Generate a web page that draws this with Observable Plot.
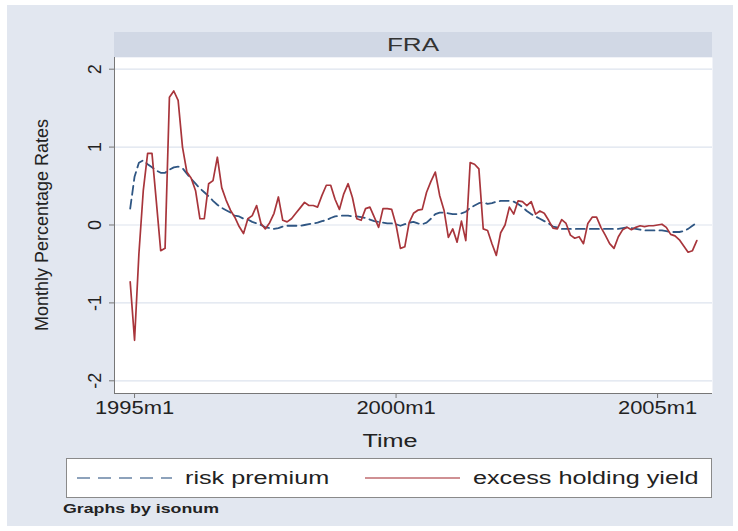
<!DOCTYPE html>
<html>
<head>
<meta charset="utf-8">
<script src="https://cdn.jsdelivr.net/npm/d3@7"></script>
<script src="https://cdn.jsdelivr.net/npm/@observablehq/plot@0.6"></script>
<style>
  body { margin: 0; background: #ffffff; font-family: "Liberation Sans", Arial, Helvetica, sans-serif; }
  #wrap { position: relative; width: 738px; height: 531px; overflow: hidden; }
  #bg { position: absolute; left: 7px; top: 5px; width: 726px; height: 521px; background: #e2e7f0; }
  #chart { position: absolute; left: 0; top: 0; }
  #header { position: absolute; left: 114px; top: 32px; width: 598px; height: 25px; background: #d1d8e5; }
  #header span { position: absolute; left: 50%; top: 50%; transform: translate(-50%, -50%) scaleX(1.45);
            color: #333; font-size: 18px; white-space: nowrap; }
  #ylabel { position: absolute; left: 42px; top: 225px; transform: translate(-50%, -50%) rotate(-90deg);
            white-space: nowrap; font-size: 18px; color: #222; }
  #xlabel { position: absolute; left: 390px; top: 441px; transform: translate(-50%, -50%) scaleX(1.4);
            font-size: 18px; color: #222; }
  #legend { position: absolute; left: 66px; top: 458px; width: 644px; height: 38px; background: #fff;
            border: 1px solid #8a8a8a; box-sizing: content-box; }
  .lg { position: absolute; top: 0; height: 38px; display: flex; align-items: center; font-size: 18px; color: #222; white-space: nowrap; }
  .lg span { display: inline-block; transform: scaleX(1.4); transform-origin: left center; }
  #note { position: absolute; left: 63px; top: 502px; font-size: 12px; font-weight: bold; color: #222;
          transform: scaleX(1.48); transform-origin: left top; white-space: nowrap; }
</style>
</head>
<body>
<div id="wrap">
  <div id="bg"></div>
  <div id="chart"></div>
  <div id="header"><span id="paneltitle"></span></div>
  <div id="ylabel">Monthly Percentage Rates</div>
  <div id="xlabel">Time</div>
  <div id="legend"></div>
  <div id="note">Graphs by isonum</div>
</div>
<script>
// ---- data ----
const panel = "FRA";
const startMonth = "1994m12"; // first observation
const seriesNames = ["risk premium", "excess holding yield"];
const riskPremium = [
  0.21,0.62,0.80,0.83,0.78,0.74,0.70,0.67,0.67,0.71,
  0.74,0.75,0.73,0.66,0.59,0.53,0.47,0.42,0.37,0.31,
  0.26,0.22,0.19,0.16,0.12,0.11,0.08,0.07,0.04,0.02,
  0.00,-0.03,-0.04,-0.05,-0.04,-0.02,-0.01,-0.01,-0.01,-0.01,
  0.00,0.01,0.02,0.03,0.05,0.06,0.09,0.11,0.12,0.12,
  0.12,0.11,0.11,0.10,0.09,0.07,0.05,0.04,0.03,0.02,
  0.02,0.01,-0.01,0.01,0.03,0.04,0.02,0.01,0.03,0.08,
  0.14,0.16,0.16,0.15,0.14,0.14,0.15,0.17,0.22,0.25,
  0.28,0.29,0.27,0.28,0.30,0.31,0.31,0.31,0.30,0.27,
  0.23,0.18,0.14,0.11,0.08,0.05,0.02,-0.02,-0.03,-0.05,
  -0.05,-0.05,-0.05,-0.05,-0.05,-0.05,-0.05,-0.05,-0.05,-0.05,
  -0.05,-0.05,-0.05,-0.04,-0.03,-0.04,-0.05,-0.06,-0.07,-0.07,
  -0.07,-0.07,-0.07,-0.08,-0.09,-0.09,-0.09,-0.08,-0.05,-0.01,
  0.03
];
const excessYield = [
  -0.73,-1.48,-0.37,0.44,0.92,0.92,0.30,-0.33,-0.30,1.64,
  1.72,1.60,1.00,0.68,0.60,0.44,0.08,0.08,0.53,0.57,
  0.87,0.48,0.32,0.19,0.10,-0.02,-0.11,0.08,0.12,0.25,
  0.02,-0.05,0.03,0.15,0.36,0.06,0.04,0.08,0.15,0.22,
  0.29,0.25,0.25,0.23,0.38,0.51,0.51,0.33,0.20,0.40,
  0.53,0.35,0.08,0.06,0.21,0.23,0.10,-0.03,0.21,0.21,
  0.20,0.00,-0.30,-0.28,0.03,0.15,0.19,0.20,0.42,0.56,
  0.68,0.38,0.19,-0.16,-0.05,-0.22,0.05,-0.20,0.80,0.78,
  0.72,-0.05,-0.07,-0.24,-0.39,-0.10,0.00,0.23,0.14,0.31,
  0.30,0.25,0.30,0.14,0.18,0.15,0.06,-0.04,-0.05,0.07,
  0.02,-0.13,-0.17,-0.15,-0.24,0.02,0.10,0.10,-0.03,-0.13,
  -0.24,-0.30,-0.15,-0.06,-0.03,-0.06,-0.03,-0.01,-0.02,-0.01,
  -0.01,0.00,0.01,-0.03,-0.12,-0.14,-0.19,-0.27,-0.35,-0.33,
  -0.20
];
const yTicks = [-2, -1, 0, 1, 2];
const xTickLabels = ["1995m1", "2000m1", "2005m1"];

// ---- helpers ----
function monthIndex(label) { // months since 1995m1
  const [y, m] = label.split("m").map(Number);
  return (y - 1995) * 12 + (m - 1);
}
const t0 = monthIndex(startMonth);
const rows = riskPremium.map((v, i) => ({ t: t0 + i, risk: v, excess: excessYield[i] }));
const xTicks = xTickLabels.map(monthIndex);

document.getElementById("paneltitle").textContent = panel;

const colors = { risk: "#2f5683", excess: "#a8353b" };
const dash = "9,5";
const xDomain = [-4.6, 132.6];
const yDomain = [-2.163, 2.15];

const chart = Plot.plot({
  width: 738,
  height: 531,
  marginLeft: 114,
  marginRight: 26,
  marginTop: 57,
  marginBottom: 138,
  style: { background: "transparent", fontFamily: "'Liberation Sans', Arial, sans-serif", color: "#222" },
  x: { domain: xDomain, label: null },
  y: { domain: yDomain, label: null },
  marks: [
    Plot.frame({ fill: "white", stroke: null }),
    Plot.gridY(yTicks, { stroke: "#dde3ee", strokeOpacity: 1, strokeWidth: 1.2 }),
    Plot.line(rows, { x: "t", y: "risk", stroke: colors.risk, strokeWidth: 1.8, strokeDasharray: dash }),
    Plot.line(rows, { x: "t", y: "excess", stroke: colors.excess, strokeWidth: 1.7 }),
    Plot.ruleX([xDomain[0]], { stroke: "#777" }),
    Plot.ruleY([yDomain[0]], { stroke: "#777" }),
    Plot.axisY({ ticks: yTicks, tickSize: 5, tickFormat: () => "", stroke: "#777", label: null }),
    Plot.text(yTicks, { y: d => d, text: d => String(d), frameAnchor: "left", dx: -14, rotate: -90,
                        textAnchor: "middle", lineAnchor: "bottom", fontSize: 18, fill: "#222" }),
    Plot.axisX({ ticks: xTicks, tickSize: 5, tickPadding: 3, tickFormat: (d) => xTickLabels[xTicks.indexOf(d)],
                 fontSize: 18, stroke: "#777", fill: "#222", label: null })
  ]
});
document.getElementById("chart").appendChild(chart);

// horizontally widen the x tick labels (reference type is wide)
chart.querySelectorAll('g[aria-label="x-axis tick label"] text').forEach(t => {
  const tr = t.getAttribute("transform") || "";
  t.setAttribute("transform", tr + " scale(1.22,1)");
});

// ---- legend ----
const legend = document.getElementById("legend");
const items = [
  { name: seriesNames[0], color: colors.risk, dash: "13,8", left: 10, sw: 95 },
  { name: seriesNames[1], color: colors.excess, dash: null, left: 298, sw: 95 }
];
items.forEach(it => {
  const d = document.createElement("div");
  d.className = "lg";
  d.style.left = it.left + "px";
  d.innerHTML = `<svg width="${it.sw}" height="10" style="margin-right:13px"><line x1="0" x2="${it.sw}" y1="5" y2="5"
     stroke="${it.color}" stroke-width="1.8" stroke-opacity="0.55" ${it.dash ? `stroke-dasharray="${it.dash}"` : ""}/></svg><span>${it.name}</span>`;
  legend.appendChild(d);
});
</script>
</body>
</html>
